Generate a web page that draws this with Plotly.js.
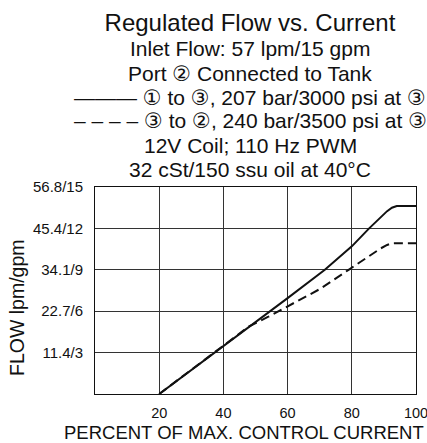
<!DOCTYPE html>
<html>
<head>
<meta charset="utf-8">
<script src="https://cdn.plot.ly/plotly-3.0.1.min.js"></script>
<style>html,body{margin:0;padding:0;background:#fff;}#chart{width:427px;height:443px;}</style>
</head>
<body>
<div id="chart"></div>
<script>
// ---- data ----
const solidX = [20, 38, 54.5, 60, 71.6, 80, 85.4, 89, 91, 92.5, 94, 100];
const solidY = [0, 3.1, 6, 6.95, 9, 10.7, 12, 12.85, 13.25, 13.5, 13.62, 13.62];
const dashX = [20, 48, 54, 60, 70, 79, 85, 89, 91, 92.5, 100];
const dashY = [0, 4.9, 5.6, 6.35, 7.6, 9.0, 9.95, 10.55, 10.8, 10.92, 10.92];
const xTickVals = [20, 40, 60, 80, 100];
const xTickText = ['20', '40', '60', '80', '100'];
const yTickVals = [3, 6, 9, 12, 15];
const yTickText = ['11.4/3', '22.7/6', '34.1/9', '45.4/12', '56.8/15'];
const titleText = 'Regulated Flow vs. Current';
const subtitleLines = [
  'Inlet Flow: 57 lpm/15 gpm',
  'Port \u2461 Connected to Tank',
  '\u2014\u2014\u2014 \u2460 to \u2462, 207 bar/3000 psi at \u2462',
  '\u2013 \u2013 \u2013 \u2013 \u2462 to \u2461, 240 bar/3500 psi at \u2462',
  '12V Coil; 110 Hz PWM',
  '32 cSt/150 ssu oil at 40\u00b0C'
];
const xTitle = 'PERCENT OF MAX. CONTROL CURRENT';
const yTitle = 'FLOW lpm/gpm';

// ---- layout helpers ----
const W = 427, H = 443;
const M = {l: 95, r: 11, t: 187, b: 49};
const PW = W - M.l - M.r, PH = H - M.t - M.b;
const px2x = p => (p - M.l) / PW;
const px2y = p => (H - M.b - p) / PH;
const FONT = '"Liberation Sans", Arial, "DejaVu Sans", sans-serif';

const annotations = subtitleLines.map((t, i) => ({
  text: t, xref: 'paper', yref: 'paper',
  x: px2x(250), y: px2y(49 + 24 * i),
  xanchor: 'center', yanchor: 'middle', showarrow: false,
  font: {family: FONT, size: 21, color: '#111'}
}));
annotations.push({
  text: xTitle, xref: 'paper', yref: 'paper', x: px2x(244), y: px2y(432),
  xanchor: 'center', yanchor: 'middle', showarrow: false,
  font: {family: FONT, size: 18.5, color: '#111'}
});
annotations.push({
  text: yTitle, xref: 'paper', yref: 'paper', x: px2x(17), y: px2y(308),
  xanchor: 'center', yanchor: 'middle', showarrow: false, textangle: -90,
  font: {family: FONT, size: 19.5, color: '#111'}
});

const traces = [
  {x: solidX, y: solidY, mode: 'lines', type: 'scatter',
   line: {color: '#111', width: 2}, hoverinfo: 'skip', name: 'solid'},
  {x: dashX, y: dashY, mode: 'lines', type: 'scatter',
   line: {color: '#111', width: 2, dash: '9px,5px'}, hoverinfo: 'skip', name: 'dashed'}
];

const layout = {
  width: W, height: H, margin: M,
  paper_bgcolor: '#fff', plot_bgcolor: '#fff',
  showlegend: false,
  title: {text: titleText, xref: 'container', yref: 'container',
          x: 250 / W, y: 1 - 23 / H, xanchor: 'center', yanchor: 'middle',
          font: {family: FONT, size: 24, color: '#111'}},
  xaxis: {range: [0, 100], tickvals: xTickVals, ticktext: xTickText,
          showgrid: true, gridcolor: '#333', gridwidth: 1,
          showline: true, linecolor: '#111', linewidth: 1, mirror: true,
          zeroline: false, ticks: '', ticklabelstandoff: 6, ticklabelshift: -1.5,
          ticklabeloverflow: 'allow',
          tickfont: {family: FONT, size: 14.5, color: '#111'}, fixedrange: true},
  yaxis: {range: [0, 15], tickvals: yTickVals, ticktext: yTickText,
          showgrid: true, gridcolor: '#333', gridwidth: 1,
          showline: true, linecolor: '#111', linewidth: 1, mirror: true,
          zeroline: false, ticks: '', ticklabelstandoff: 8, ticklabeloverflow: 'allow',
          tickfont: {family: FONT, size: 15, color: '#111'}, fixedrange: true},
  annotations: annotations
};

Plotly.newPlot('chart', traces, layout, {staticPlot: true, displayModeBar: false});
</script>
</body>
</html>
